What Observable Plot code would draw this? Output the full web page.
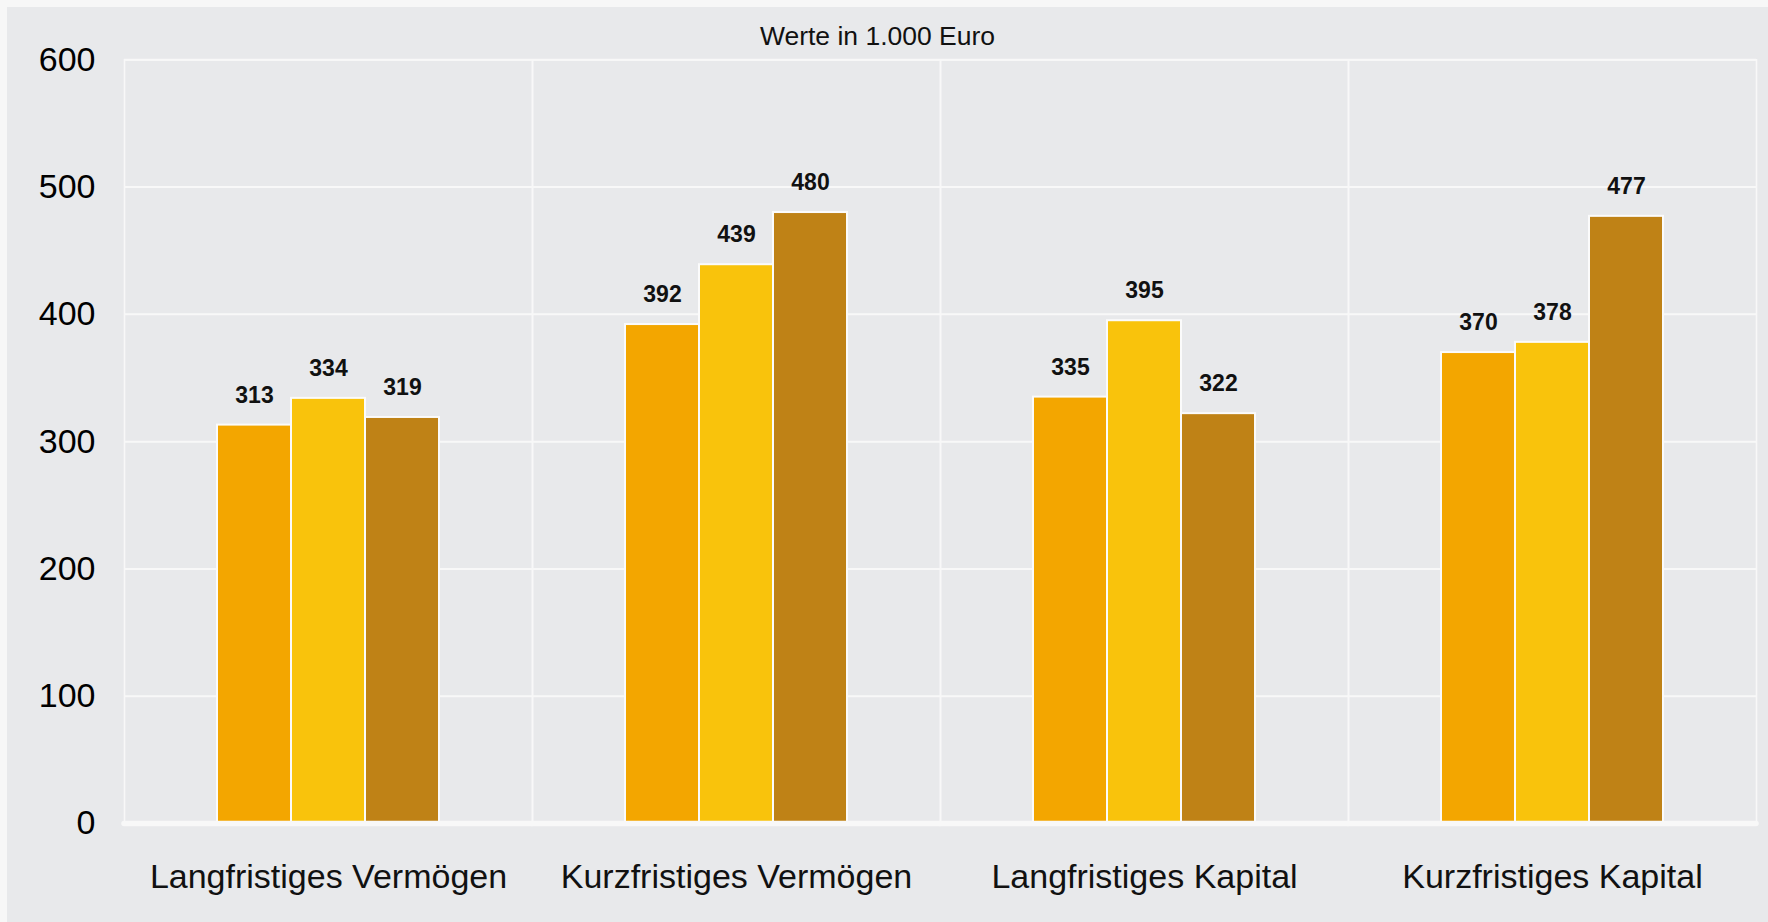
<!DOCTYPE html>
<html>
<head>
<meta charset="utf-8">
<script src="https://cdn.jsdelivr.net/npm/d3@7"></script>
<script src="https://cdn.jsdelivr.net/npm/@observablehq/plot@0.6"></script>
<style>
  html, body { margin: 0; padding: 0; background: #f7f7f7; }
  body { width: 1768px; height: 922px; position: relative; overflow: hidden; font-family: "Liberation Sans", Arial, sans-serif; }
  #wrap { position: absolute; left: 7px; top: 7px; width: 1761px; height: 915px; background: #e8e9eb; }
  #sub { position: absolute; left: 0; top: 16px; width: 1741px; text-align: center; font-size: 26.5px; line-height: 1; color: #111; }
  #chart { position: absolute; left: 0; top: 43px; }
  #chart svg { overflow: visible; }
</style>
</head>
<body>
<div id="wrap">
  <div id="sub">Werte in 1.000 Euro</div>
  <div id="chart"></div>
</div>
<script>
const categories = ["Langfristiges Vermögen", "Kurzfristiges Vermögen", "Langfristiges Kapital", "Kurzfristiges Kapital"];
const series = ["A", "B", "C"];
const seriesColors = ["#f3a600", "#f9c30c", "#bf8216"];
const valuesA = [313, 392, 335, 370];
const valuesB = [334, 439, 395, 378];
const valuesC = [319, 480, 322, 477];
const yTicks = [0, 100, 200, 300, 400, 500, 600];

const table = [];
categories.forEach((c, i) => {
  table.push({category: c, series: series[0], value: valuesA[i]});
  table.push({category: c, series: series[1], value: valuesB[i]});
  table.push({category: c, series: series[2], value: valuesC[i]});
});

const chart = Plot.plot({
  width: 1761,
  height: 872,
  marginLeft: 117,
  marginRight: 11.3,
  marginTop: 9.3,
  marginBottom: 99,
  style: {background: "transparent", fontFamily: "'Liberation Sans', Arial, sans-serif", fontSize: "34px", color: "#000", overflow: "visible"},
  facet: {data: table, x: "category"},
  fx: {domain: categories, padding: 0, axis: null, label: null},
  x: {domain: series, paddingInner: 0, paddingOuter: 1.243, axis: null, label: null},
  y: {domain: [0, 600], ticks: yTicks, tickSize: 0, tickPadding: 29, label: null},
  color: {domain: series, range: seriesColors},
  marks: [
    Plot.ruleY(yTicks.filter(t => t > 0), {stroke: "#f8f8f8", strokeWidth: 2}),
    Plot.frame({stroke: "#f8f8f8", strokeWidth: 1.6}),
    Plot.barY(table, {x: "series", y: "value", fill: "series", stroke: "#fbfbfb", strokeWidth: 2, insetLeft: 0, insetRight: 0}),
    Plot.ruleY([0], {stroke: "#f8f8f8", strokeWidth: 5.5, strokeLinecap: "round"}),
    Plot.text(table, {x: "series", y: "value", text: d => String(d.value), dy: -22.5, lineAnchor: "bottom", fontWeight: "bold", fontSize: 23, fill: "#111"}),
    Plot.text(table, {filter: d => d.series === series[1], text: "category", frameAnchor: "bottom", lineAnchor: "bottom", dy: 64, fontSize: 34, fill: "#111"})
  ]
});
document.getElementById("chart").appendChild(chart);
</script>
</body>
</html>
